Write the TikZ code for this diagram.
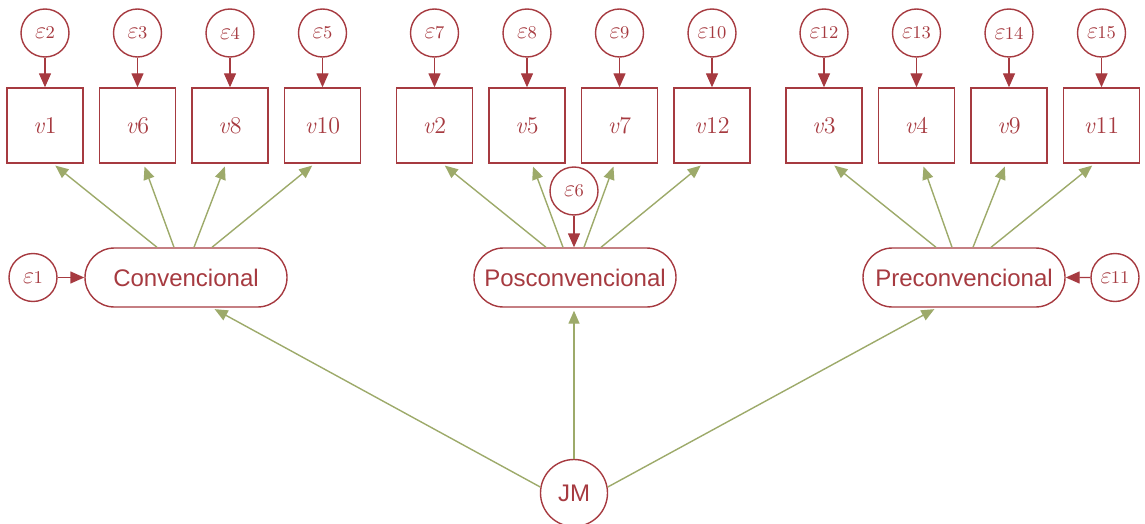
\documentclass[tikz,border=0pt]{standalone}
\usepackage{fontspec}
\newfontfamily\latfont{Liberation Sans}
\usetikzlibrary{calc,positioning,shapes.misc,arrows.meta}
\definecolor{semred}{RGB}{166,58,64}
\definecolor{semgreen}{RGB}{157,170,106}
\tikzset{errnode/.style = {circle,draw=semred,text=semred,line width=0.7pt,minimum size=24pt,inner sep=0pt},
        obsbox/.style = {rectangle,draw=semred,text=semred,line width=0.7pt,minimum width=38pt,minimum height=37.5pt,inner sep=0pt},
    latent/.style = {rounded rectangle,draw=semred,text=semred,line width=0.7pt,minimum width=101pt,minimum height=29.5pt,inner sep=0pt,font=\latfont\fontsize{12}{14}\selectfont},
    post/.style =   {-{Triangle[length=7pt,width=6pt]},draw=semred,line width=0.7pt},
    load/.style =   {-{Triangle[length=6.5pt,width=5.5pt]},draw=semgreen,line width=0.7pt,shorten >=1.5pt}
}
\newcommand\Err[1]{{\fontsize{13}{14}\selectfont$\varepsilon$\kern-0.3pt\fontsize{9}{10}\selectfont #1}}
\newcommand\Obs[1]{{\fontsize{12}{14}\selectfont\textit{v}#1}}

\begin{document}
\begin{tikzpicture}[x=0.5pt,y=-0.5pt]
 \useasboundingbox (0,0) rectangle (1145,524);
 % observed items with their errors
 \foreach \x/\v/\e in {45/1/2,137.5/6/3,230/8/4,322.5/10/5,434.5/2/7,527/5/8,619.5/7/9,712/12/10,824/3/12,916.5/4/13,1009/9/14,1101.5/11/15}{
  \node[obsbox] (v\v) at (\x,125.5) {\Obs{\v}};
  \node[errnode] (e\e) at (\x,33) {\Err{\e}};
  \draw[post] (e\e) -- (v\v);
 }
 % latent factors
    \node[latent] (conv) at (186,277.5) {Convencional};
    \node[latent] (posc) at (575,277.5) {Posconvencional};
    \node[latent] (prec) at (964,277.5) {Preconvencional};
    \node[errnode] (e1) at (33,277.5) {\Err{1}};
    \node[errnode] (e6) at (574,191) {\Err{6}};
    \node[errnode] (e11) at (1115,277.5) {\Err{11}};
    \node[errnode,minimum size=33.5pt,font=\latfont\fontsize{12}{14}\selectfont] (jm) at (574,493) {JM};
    \draw[post] (e1) -- (conv);
    \draw[post] (e11) -- (prec);
    \draw[post] (e6) -- (e6 |- posc.north);
 \foreach \v/\a/\b in {1/-29/8,6/-12/6,8/8/-4,10/26/-8}
  \draw[load] ($(conv.north)+(\a,0)$) -- ($(v\v.south)+(\b,0)$);
 \foreach \v/\a/\b in {2/-29/8,5/-12/5,7/9/-5,12/26/-9}
  \draw[load] ($(posc.north)+(\a,0)$) -- ($(v\v.south)+(\b,0)$);
 \foreach \v/\a/\b in {3/-28/8,4/-12/6,9/9/-3,11/27/-7}
  \draw[load] ($(prec.north)+(\a,0)$) -- ($(v\v.south)+(\b,0)$);
 % second order
    \draw[load] (jm.170) -- ($(conv.south)+(26,0)$);
    \draw[load] (jm) -- (jm |- posc.south);
    \draw[load] (jm.10) -- ($(prec.south)+(-27,0)$);
\end{tikzpicture}
\end{document}
